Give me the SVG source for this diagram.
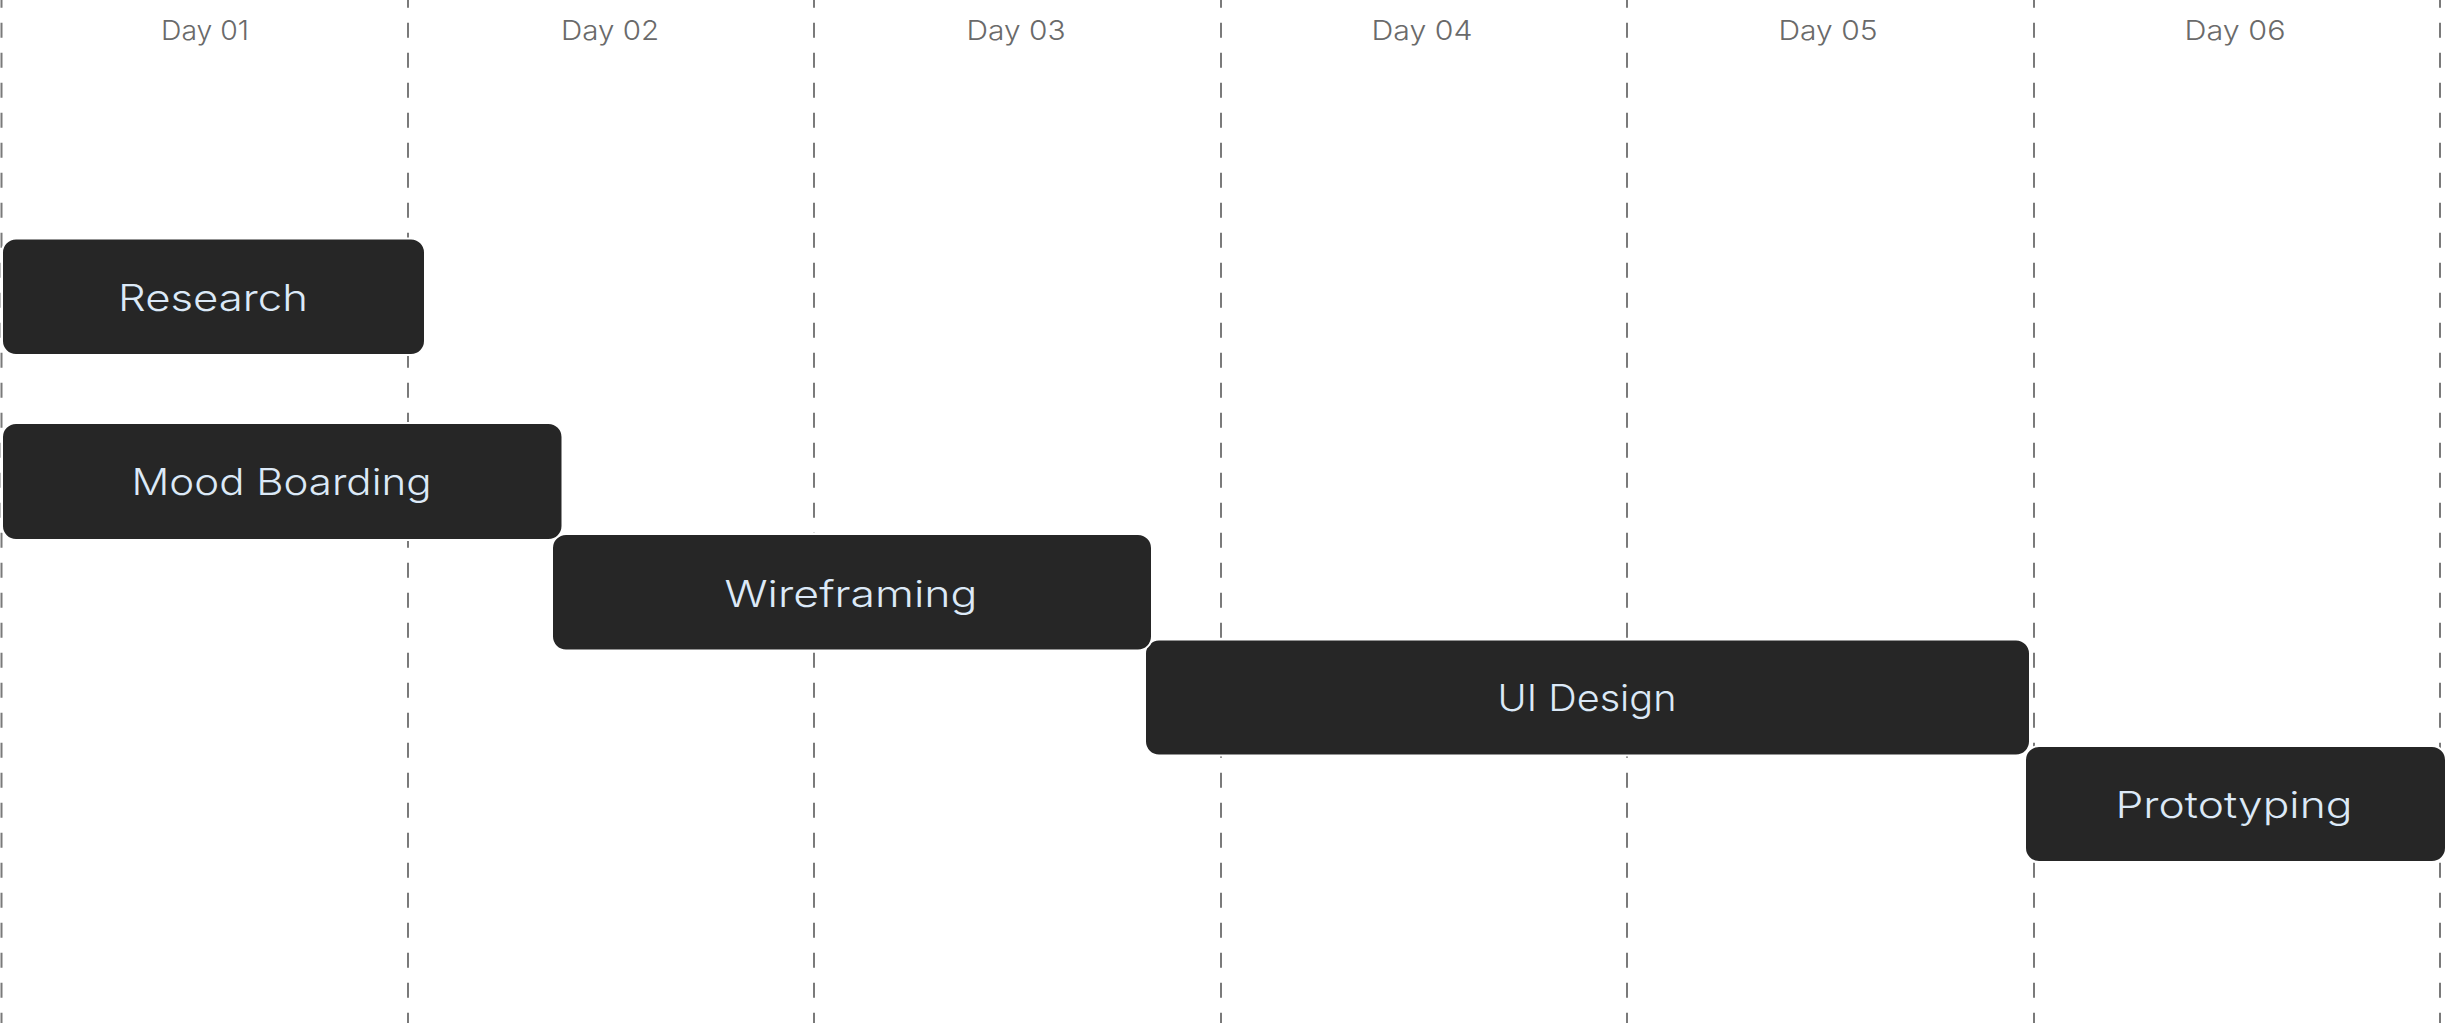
<svg xmlns="http://www.w3.org/2000/svg" width="2446" height="1023" viewBox="0 0 2446 1023">
<style>
.grid{stroke:#7a7a7a;stroke-width:2;stroke-dasharray:15 15;fill:none}
.day{font-family:Inter,"Liberation Sans",sans-serif;font-size:27px;font-weight:300;fill:#6a6a6a;text-anchor:middle}
.bar{fill:#262626;stroke:#ffffff;stroke-width:2}
.lbl{font-family:Inter,"Liberation Sans",sans-serif;font-size:37px;font-weight:300;fill:#dce9f7;text-anchor:middle}
</style>
<rect width="2446" height="1023" fill="#ffffff"/>
<g id="grid">
<line class="grid" x1="1.5" y1="-7.3" x2="1.5" y2="1023"/>
<line class="grid" x1="408" y1="-7.3" x2="408" y2="1023"/>
<line class="grid" x1="814" y1="-7.3" x2="814" y2="1023"/>
<line class="grid" x1="1221" y1="-7.3" x2="1221" y2="1023"/>
<line class="grid" x1="1627" y1="-7.3" x2="1627" y2="1023"/>
<line class="grid" x1="2034" y1="-7.3" x2="2034" y2="1023"/>
<line class="grid" x1="2440" y1="-7.3" x2="2440" y2="1023"/>
</g>
<g id="days">
<text class="day" x="205" y="40" textLength="88" lengthAdjust="spacingAndGlyphs">Day 01</text>
<text class="day" x="610" y="40" textLength="98" lengthAdjust="spacingAndGlyphs">Day 02</text>
<text class="day" x="1016" y="40" textLength="99" lengthAdjust="spacingAndGlyphs">Day 03</text>
<text class="day" x="1422" y="40" textLength="101" lengthAdjust="spacingAndGlyphs">Day 04</text>
<text class="day" x="1828" y="40" textLength="99" lengthAdjust="spacingAndGlyphs">Day 05</text>
<text class="day" x="2235" y="40" textLength="101" lengthAdjust="spacingAndGlyphs">Day 06</text>
</g>
<g id="connectors"></g>
<g id="prototyping">
<rect class="bar" x="2025" y="746" width="421" height="116" rx="14"/>
<text class="lbl" x="2234" y="817.5" textLength="237" lengthAdjust="spacingAndGlyphs">Prototyping</text>
</g>
<g id="ui-design">
<rect class="bar" x="1145" y="639.5" width="885" height="116" rx="14"/>
<text class="lbl" x="1587" y="711" textLength="179" lengthAdjust="spacingAndGlyphs">UI Design</text>
</g>
<g id="wireframing">
<rect class="bar" x="552" y="534" width="600" height="116.5" rx="14"/>
<text class="lbl" x="851" y="606.5" textLength="253" lengthAdjust="spacingAndGlyphs">Wireframing</text>
</g>
<g id="mood-boarding">
<rect class="bar" x="2" y="423" width="560.5" height="117" rx="14"/>
<text class="lbl" x="281.5" y="495" textLength="300" lengthAdjust="spacingAndGlyphs">Mood Boarding</text>
</g>
<g id="research">
<rect class="bar" x="2" y="238.5" width="423" height="116.5" rx="14"/>
<text class="lbl" x="213" y="310.5" textLength="190" lengthAdjust="spacingAndGlyphs">Research</text>
</g>
</svg>
